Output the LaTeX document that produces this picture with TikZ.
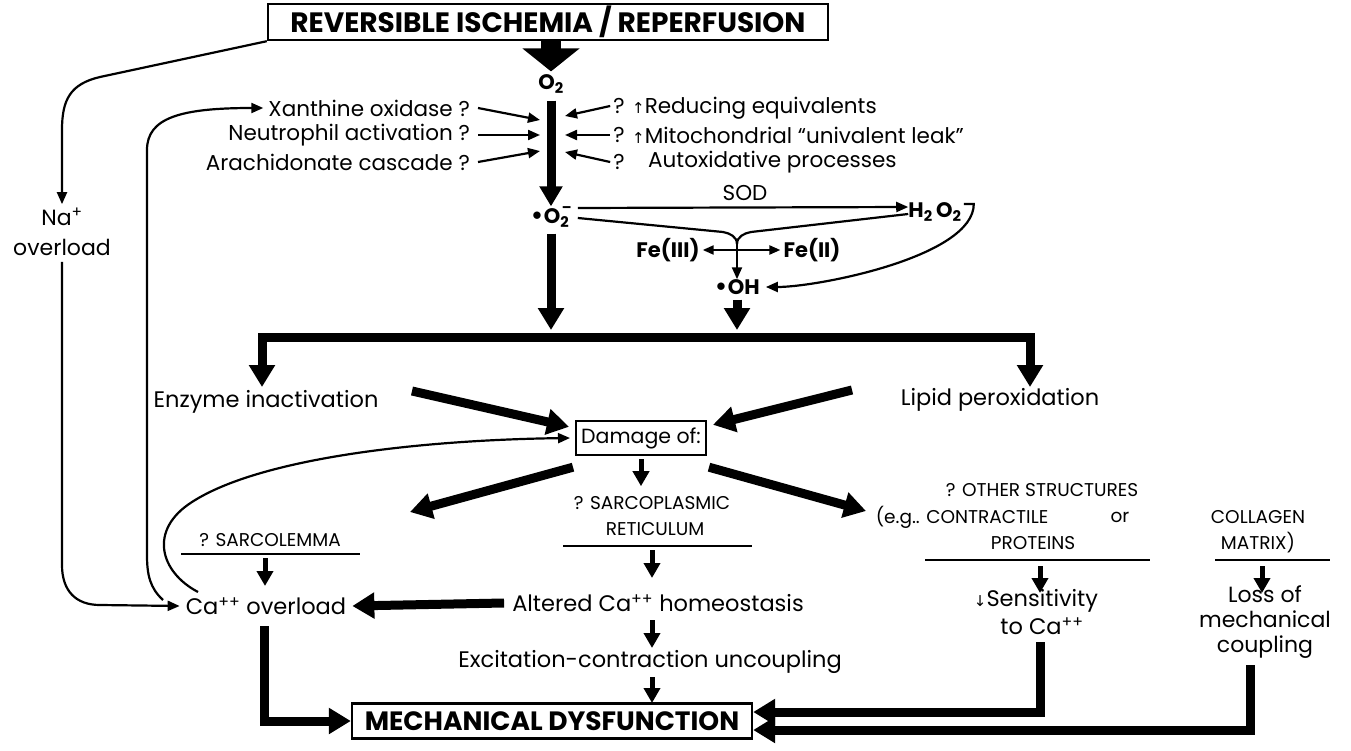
\documentclass[tikz,border=0pt]{standalone}
\usepackage{fontspec}
\setmainfont{Poppins}
\newfontfamily\dvfont{DejaVu Sans}
\usetikzlibrary{arrows.meta}
\tikzset{
  txt/.style={inner sep=0pt, font=\fontsize{22.5}{25}\selectfont},
  lbl/.style={inner sep=0pt, font=\fontsize{21.5}{24}\selectfont},
  capt/.style={inner sep=0pt, font=\fontsize{18.5}{21}\selectfont},
  chem/.style={inner sep=0pt, font=\bfseries\fontsize{21}{24}\selectfont},
  titlebox/.style={draw, line width=2.4pt, inner sep=0pt, font=\bfseries\fontsize{26.5}{30}\selectfont},
  dmgbox/.style={draw, line width=2.4pt, inner xsep=5pt, inner ysep=0pt, minimum height=34pt, font=\fontsize{20.5}{24}\selectfont},
  ln/.style={line width=2.2pt},
  thinarr/.style={line width=2.2pt, -{Triangle[length=12pt,width=10pt]}},
  midarr/.style={line width=5pt, -{Triangle[length=15pt,width=16pt]}},
  fatarr/.style={line width=9pt, line join=miter, -{Triangle[length=22pt,width=25pt]}},
}
\newcommand{\upar}{{\dvfont\fontsize{15}{15}\selectfont ↑}}
\newcommand{\dnar}{{\dvfont\fontsize{15}{15}\selectfont ↓}}
\begin{document}
\begin{tikzpicture}[x=1pt,y=-1pt]
\useasboundingbox (0,0) rectangle (1351,751);
\fill[white] (0,0) rectangle (1351,751);

% top
\node[titlebox, minimum width=560pt, minimum height=36pt, font=\bfseries\fontsize{28}{31}\selectfont] (top) at (548,22) {REVERSIBLE ISCHEMIA / REPERFUSION};
\node[chem] (o2) at (551,84) {O\textsubscript{2}};
\draw[line width=20pt, -{Triangle[length=23pt,width=56pt]}] (top.south -| o2.north) -- ([yshift=3pt]o2.north);

% sources
\node[lbl, anchor=east] (xan) at (470,108) {Xanthine oxidase ?};
\node[lbl, anchor=east] (neu) at (470,135) {Neutrophil activation ?};
\node[lbl, anchor=east] (ara) at (470,162) {Arachidonate cascade ?};
\node[lbl] (q1) at (619,106) {?};
\node[lbl] (q2) at (619,135) {?};
\node[lbl] (q3) at (619,162) {?};
\node[lbl, anchor=west] (red) at (632,108) {\upar Reducing equivalents};
\node[lbl, anchor=west] (mit) at (632,135) {\upar Mitochondrial “univalent leak”};
\node[lbl, anchor=west] (aut) at (648,162) {Autoxidative processes};
\coordinate (L1) at (540,120); \coordinate (L2) at (540,135); \coordinate (L3) at (540,151);
\coordinate (R1) at (565,116); \coordinate (R2) at (565,135); \coordinate (R3) at (565,152);
\draw[thinarr] ([xshift=8pt]xan.east) -- (L1);
\draw[thinarr] ([xshift=8pt]neu.east) -- (L2);
\draw[thinarr] ([xshift=8pt]ara.east) -- (L3);
\draw[thinarr] ([xshift=-3pt]q1.west) -- (R1);
\draw[thinarr] ([xshift=-3pt]q2.west) -- (R2);
\draw[thinarr] ([xshift=-3pt]q3.west) -- (R3);

% superoxide chemistry
\node[chem] (sup) at (551,217) {{\dvfont •}O\textsubscript{2}\kern-0.35em\raisebox{0.95ex}{\fontsize{14}{14}\selectfont –}};
\draw[line width=9pt, -{Triangle[length=20pt,width=22pt]}] ([yshift=-7pt]o2.south) -- (o2.south |- sup.north);
\node[lbl] (sod) at (745,193) {SOD};
\node[chem] (hoo) at (935,212) {H\textsubscript{2}\,O\textsubscript{2}};
\draw[thinarr] ([xshift=6pt,yshift=9pt]sup.east) -- ([yshift=5pt]hoo.west);
\coordinate (j) at (737,244);
\draw[ln] ([xshift=6pt,yshift=-1pt]sup.east) -- (723,232) to[out=-10,in=90] (j);
\draw[ln] ([yshift=-2pt]hoo.west) -- (751,232) to[out=190,in=90] (j);
\node[chem] (fe3) at (668,250) {Fe(III)};
\node[chem] (fe2) at (812,250) {Fe(II)};
\draw[line width=2.2pt, {Triangle[length=11pt,width=9pt]}-{Triangle[length=11pt,width=9pt]}] ([xshift=3pt]fe3.east) -- ([xshift=-3pt]fe2.west);
\node[chem] (oh) at (737,287) {{\dvfont •}OH};
\draw[thinarr] (j) -- (j |- oh.north);
\draw[thinarr] ([xshift=2pt,yshift=8pt]hoo.east) -- ++(10,0) to[out=-90,in=0,looseness=0.6] ([xshift=6pt]oh.east);

% to the bar
\coordinate (bar) at (551,337);
\coordinate (barOH) at (737,337);
\coordinate (enzT) at (262,387);
\coordinate (lipT) at (1030,387);
\draw[fatarr] ([yshift=-6pt]sup.south -| o2.south) -- ([yshift=7pt]bar);
\draw[fatarr] ([yshift=-5pt]oh.south) -- ([yshift=7pt]barOH);
\draw[fatarr] (bar) -| (enzT);
\draw[fatarr] (bar) -| (lipT);

\node[txt] (enz) at (266,402) {Enzyme inactivation};
\node[txt] (lip) at (1000,400) {Lipid peroxidation};
\node[dmgbox] (dmg) at (641,438) {Damage of:};
\draw[fatarr] (412,391) -- ([xshift=-6pt,yshift=-7pt]dmg.north west);
\draw[fatarr] (852,390) -- ([xshift=6pt,yshift=-5pt]dmg.north east);
\draw[fatarr] ([xshift=-2pt,yshift=-11pt]dmg.south west) -- (410,512);
\draw[fatarr] ([xshift=2pt,yshift=-11pt]dmg.south east) -- (866,511);

% sarcolemma branch
\node[capt] (sl) at (270,540) {? SARCOLEMMA};
\draw[ln] (181,554) -- (360,554);
\draw[midarr] (265,558) -- (265,586);
\node[txt] (ca) at (266,606) {Ca\textsuperscript{++} overload};

% SR branch
\draw[midarr] ([yshift=-3pt]dmg.south) -- ++(0,27);
\node[capt] (sr1) at (652,503) {? SARCOPLASMIC};
\node[capt] (sr2) at (655,529) {RETICULUM};
\draw[ln] (563,546) -- (752,546);
\draw[midarr] (652,550) -- (652,578);
\node[txt] (alt) at (658,603) {Altered Ca\textsuperscript{++} homeostasis};
\draw[fatarr] ([xshift=-8pt]alt.west) -- ([xshift=6pt]ca.east);
\draw[midarr] (652,620) -- (652,648);
\node[txt] (exc) at (650,662) {Excitation-contraction uncoupling};
\draw[midarr] (652,677) -- (652,703);
\node[titlebox, minimum width=400pt, minimum height=35pt] (mech) at (552,721) {MECHANICAL DYSFUNCTION};
\draw[fatarr] (264,626) |- (mech.west);

% other structures
\node[capt] (os1) at (1042,490) {? OTHER STRUCTURES};
\node[capt] (os2) at (962,517) {(e.g.. CONTRACTILE};
\node[capt] (os3) at (1120,517) {or};
\node[capt] (os4) at (1258,517) {COLLAGEN};
\node[capt] (os5) at (1033,543) {PROTEINS};
\node[capt] (os6) at (1258,543) {MATRIX)};
\draw[ln] (925,560) -- (1150,560);
\draw[ln] (1215,560) -- (1330,560);
\draw[midarr] (1040,566) -- (1040,593);
\draw[midarr] (1262,566) -- (1262,593);
\node[txt] (sens) at (1036,601) {\dnar Sensitivity};
\node[txt] (toca) at (1042,626) {to Ca\textsuperscript{++}};
\node[txt, align=center, font=\fontsize{22}{25}\selectfont] (loss) at (1265,622) {Loss of\\mechanical\\coupling};
\draw[fatarr] (1040,642) |- ([yshift=9pt]mech.east);
\draw[fatarr] (1250,665) |- ([yshift=-9pt]mech.east);

% left side loops
\node[txt, align=center, font=\fontsize{22}{30}\selectfont] (na) at (62,232) {Na\textsuperscript{+}\\overload};
\draw[thinarr] (top.south west) -- (100,77) .. controls (70,84) and (62,100) .. (62,130) -- ([yshift=4pt]na.north);
\draw[thinarr] ([yshift=-6pt]na.south) -- (62,565) .. controls (62,590) and (75,605) .. (100,605) -- ([xshift=-6pt]ca.west);
\draw[thinarr] (163,600) .. controls (150,588) and (147,575) .. (147,555) -- (147,150) .. controls (147,118) and (180,108) .. ([xshift=-5pt]xan.west);
\draw[thinarr] (198,592) .. controls (160,572) and (148,530) .. (192,502) .. controls (260,458) and (420,440) .. ([xshift=-5pt]dmg.west);
\end{tikzpicture}
\end{document}
